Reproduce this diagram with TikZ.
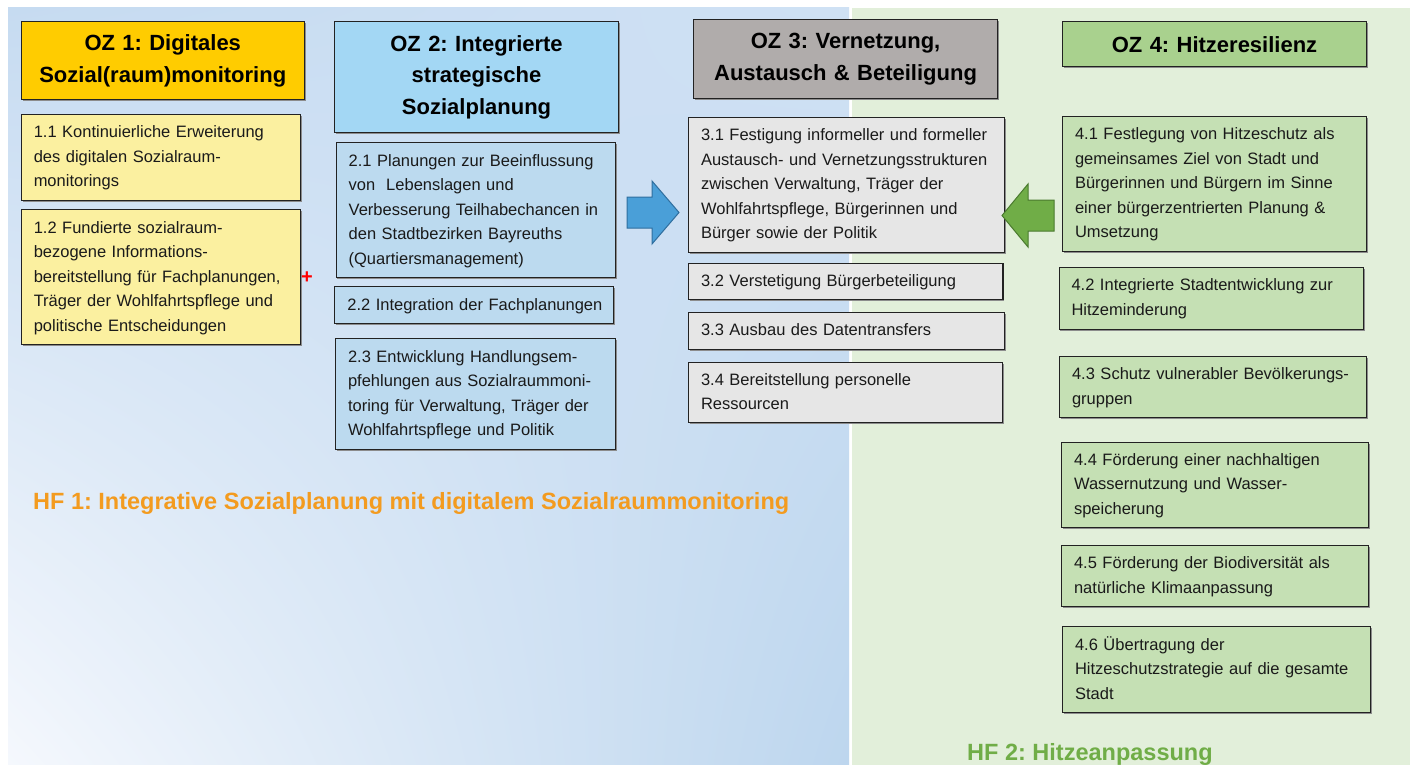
\documentclass[tikz,border=0pt]{standalone}
\usepackage{fontspec}
\setmainfont{Liberation Sans}
\usetikzlibrary{shadows,shadings}
\definecolor{ozA}{HTML}{FFCC00}
\definecolor{itA}{HTML}{FBF0A0}
\definecolor{ozB}{HTML}{A3D7F4}
\definecolor{itB}{HTML}{BCDAEF}
\definecolor{ozC}{HTML}{B0ACAB}
\definecolor{itC}{HTML}{E6E6E6}
\definecolor{ozD}{HTML}{A9D18E}
\definecolor{itD}{HTML}{C5E0B4}
\definecolor{bgGreen}{HTML}{E2EFDA}
\definecolor{bgUL}{HTML}{C6DBF1}
\definecolor{bgUR}{HTML}{CFE1F4}
\definecolor{bgLL}{HTML}{F5F8FD}
\definecolor{bgLR}{HTML}{BDD6EE}
\definecolor{hfOrange}{HTML}{F39B1F}
\definecolor{hfGreen}{HTML}{70AD47}
\definecolor{txtCol}{HTML}{1A1A1A}
\definecolor{boxLine}{HTML}{222222}
\definecolor{arrBlue}{HTML}{4A9FD8}
\definecolor{arrBlueD}{HTML}{2F6E9E}
\definecolor{arrGreen}{HTML}{70AD47}
\definecolor{arrGreenD}{HTML}{4A7A2E}
\newcommand\Lines[1]{\begin{tabular}{@{}l@{}}#1\end{tabular}}
\frenchspacing
\begin{document}
\frenchspacing
\begin{tikzpicture}[x=1pt,y=-1pt,
  basebox/.style={draw=boxLine, line width=1.1pt, anchor=north west,
    drop shadow={shadow xshift=1.3pt, shadow yshift=-1.3pt, fill=black!45, opacity=1}},
  hdr/.style={basebox, align=center, inner sep=0pt, text=black,
    font=\frenchspacing\bfseries\fontsize{22}{31.5}\selectfont},
  itm/.style={basebox, align=left, inner xsep=12.5pt, inner ysep=0pt, text=txtCol,
    font=\frenchspacing\fontsize{16.5}{24.5}\selectfont},
  hf/.style={anchor=base west, inner sep=0pt, font=\frenchspacing\bfseries\fontsize{23.5}{28}\selectfont}]
\useasboundingbox (0,0) rectangle (1410,765);
\fill[white] (0,0) rectangle (1410,765);
\shade[upper left=bgUL, upper right=bgUR, lower left=bgLL, lower right=bgLR] (8,8) rectangle (849,765);
\fill[bgGreen] (852,8) rectangle (1410,765);

% headers
\node[hdr, fill=ozA, text width=283pt, minimum height=78pt] (oz1) at (20.7,21.3) {OZ 1: Digitales\\Sozial(raum)monitoring};
\node[hdr, fill=ozB, text width=284pt, minimum height=110.4pt] (oz2) at (334,21.3) {OZ 2: Integrierte\\strategische\\Sozialplanung};
\node[hdr, fill=ozC, text width=304pt, minimum height=78.4pt] (oz3) at (693,19.3) {OZ 3: Vernetzung,\\Austausch \& Beteiligung};
\node[hdr, fill=ozD, text width=304pt, minimum height=45pt] (oz4) at (1062,21.3) {OZ 4: Hitzeresilienz};

% OZ 1 items
\node[itm, fill=itA, text width=254.3pt, minimum height=86.3pt] (i11) at (20.7,113.7) {\Lines{1.1 Kontinuierliche Erweiterung\\des digitalen Sozialraum-\\monitorings}};
\node[itm, fill=itA, text width=254.3pt, minimum height=135pt] (i12) at (20.7,209.3) {\Lines{1.2 Fundierte sozialraum-\\bezogene Informations-\\bereitstellung für Fachplanungen,\\Träger der Wohlfahrtspflege und\\politische Entscheidungen}};
\node[text=red, inner sep=0pt, font=\bfseries\fontsize{20}{20}\selectfont] (plus) at (307,277.3) {+};

% OZ 2 items
\node[itm, fill=itB, text width=254.6pt, minimum height=135pt] (i21) at (335.6,142.3) {\Lines{2.1 Planungen zur Beeinflussung\\von\ \ Lebenslagen und\\Verbesserung Teilhabechancen in\\den Stadtbezirken Bayreuths\\(Quartiersmanagement)}};
\node[itm, fill=itB, text width=254pt, minimum height=37.3pt] (i22) at (334.3,286) {\Lines{2.2 Integration der Fachplanungen}};
\node[itm, fill=itB, text width=255pt, minimum height=110.7pt] (i23) at (335,338.3) {\Lines{2.3 Entwicklung Handlungsem-\\pfehlungen aus Sozialraummoni-\\toring für Verwaltung, Träger der\\Wohlfahrtspflege und Politik}};

% OZ 3 items
\node[itm, fill=itC, text width=291pt, minimum height=135pt] (i31) at (688,116.7) {\Lines{3.1 Festigung informeller und formeller\\Austausch- und Vernetzungsstrukturen\\zwischen Verwaltung, Träger der\\Wohlfahrtspflege, Bürgerinnen und\\Bürger sowie der Politik}};
\node[itm, fill=itC, text width=289.4pt, minimum height=36.6pt] (i32) at (688,262.7) {\Lines{3.2 Verstetigung Bürgerbeteiligung}};
\node[itm, fill=itC, text width=291pt, minimum height=36.7pt] (i33) at (688,312) {\Lines{3.3 Ausbau des Datentransfers}};
\node[itm, fill=itC, text width=289pt, minimum height=60.6pt] (i34) at (688,361.7) {\Lines{3.4 Bereitstellung personelle\\Ressourcen}};

% OZ 4 items
\node[itm, fill=itD, text width=279pt, minimum height=135pt] (i41) at (1062,116) {\Lines{4.1 Festlegung von Hitzeschutz als\\gemeinsames Ziel von Stadt und\\Bürgerinnen und Bürgern im Sinne\\einer bürgerzentrierten Planung \&\\Umsetzung}};
\node[itm, fill=itD, text width=279.5pt, minimum height=62pt] (i42) at (1058.5,266.7) {\Lines{4.2 Integrierte Stadtentwicklung zur\\Hitzeminderung}};
\node[itm, fill=itD, text width=282pt, minimum height=61.6pt] (i43) at (1059,355.7) {\Lines{4.3 Schutz vulnerabler Bevölkerungs-\\gruppen}};
\node[itm, fill=itD, text width=282pt, minimum height=85.6pt] (i44) at (1061,441.7) {\Lines{4.4 Förderung einer nachhaltigen\\Wassernutzung und Wasser-\\speicherung}};
\node[itm, fill=itD, text width=282pt, minimum height=61.3pt] (i45) at (1061,545) {\Lines{4.5 Förderung der Biodiversität als\\natürliche Klimaanpassung}};
\node[itm, fill=itD, text width=283pt, minimum height=86.3pt] (i46) at (1062,626) {\Lines{4.6 Übertragung der\\Hitzeschutzstrategie auf die gesamte\\Stadt}};

% block arrows
\filldraw[fill=arrBlue, draw=arrBlueD, line width=1pt, line join=miter]
  (627,197) -- (652,197) -- (652,181) -- (679,212.5) -- (652,244) -- (652,228) -- (627,228) -- cycle;
\filldraw[fill=arrGreen, draw=arrGreenD, line width=1pt, line join=miter]
  (1002,215.5) -- (1028,184) -- (1028,200) -- (1054,200) -- (1054,231) -- (1028,231) -- (1028,247) -- cycle;

% field labels
\node[hf, text=hfOrange] (hf1) at (33,509) {HF 1: Integrative Sozialplanung mit digitalem Sozialraummonitoring};
\node[hf, text=hfGreen] (hf2) at (967,760) {HF 2: Hitzeanpassung};
\end{tikzpicture}
\end{document}
